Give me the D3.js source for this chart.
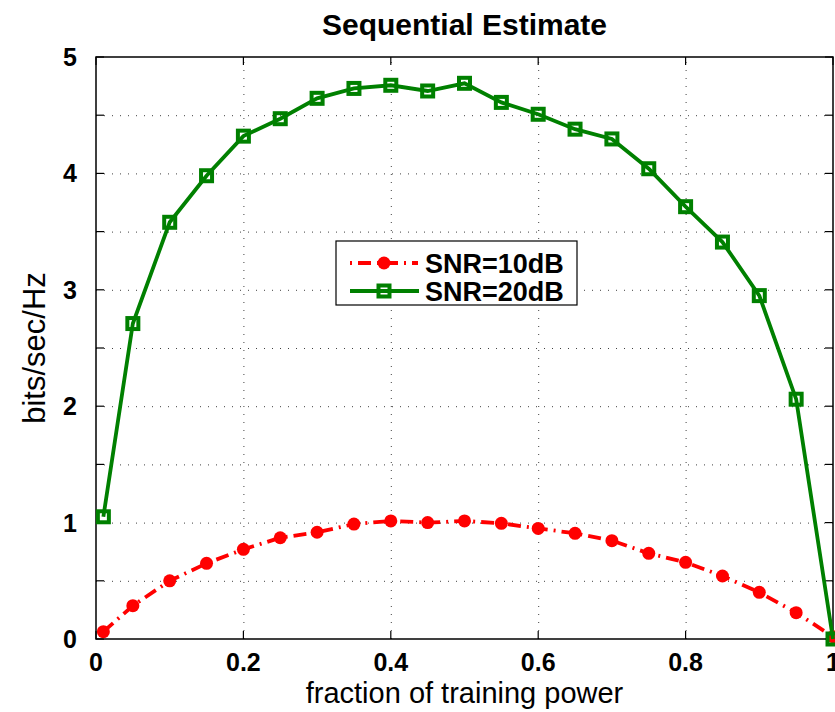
<!DOCTYPE html>
<html>
<head>
<meta charset="utf-8">
<script src="https://cdn.jsdelivr.net/npm/d3@7"></script>
<style>
  body { margin: 0; background: #fff; }
  svg { display: block; font-family: "Liberation Sans", Arial, Helvetica, sans-serif; }
  .grid line { stroke: #000; stroke-width: 1; stroke-dasharray: 1,7; opacity: 0.75; }
  .grid path { display: none; }
  .tick-label { font-weight: bold; font-size: 25px; fill: #000; }
</style>
</head>
<body>
<div id="chart"></div>
<script>
// fraction of training power
var fractions = [0.01, 0.05, 0.1, 0.15, 0.2, 0.25, 0.3, 0.35, 0.4, 0.45, 0.5,
                 0.55, 0.6, 0.65, 0.7, 0.75, 0.8, 0.85, 0.9, 0.95, 1.0];
// bits/sec/Hz
var snr10 = [0.063, 0.286, 0.50, 0.65, 0.77, 0.87, 0.917, 0.987, 1.014, 1.0, 1.014,
             0.994, 0.95, 0.908, 0.845, 0.736, 0.659, 0.541, 0.401, 0.226, 0.02];
var snr20 = [1.05, 2.71, 3.58, 3.98, 4.32, 4.47, 4.645, 4.73, 4.757, 4.708, 4.774,
             4.61, 4.508, 4.38, 4.296, 4.04, 3.714, 3.41, 2.95, 2.06, 0.0];
var seriesNames = ["SNR=10dB", "SNR=20dB"];
var xTicks = [0, 0.2, 0.4, 0.6, 0.8, 1];
var yTicks = [0, 0.5, 1, 1.5, 2, 2.5, 3, 3.5, 4, 4.5, 5];
var yLabels = [0, 1, 2, 3, 4, 5];

var width = 835, height = 712;
var margins = { top: 57, right: 2, bottom: 73, left: 96 };
var chartWidth = width - margins.left - margins.right;
var chartHeight = height - margins.top - margins.bottom;

var svg = d3.select("#chart").append("svg")
  .attr("width", width)
  .attr("height", height);

var xScale = d3.scaleLinear().domain([0, 1]).range([0, chartWidth]);
var yScale = d3.scaleLinear().domain([0, 5]).range([chartHeight, 0]);

var chart = svg.append("g")
  .attr("transform", `translate(${margins.left},${margins.top})`);

// grid
chart.append("g")
  .attr("class", "grid")
  .attr("transform", `translate(0,${chartHeight})`)
  .call(d3.axisBottom(xScale).tickValues(xTicks.slice(1, -1)).tickSize(-chartHeight).tickFormat(""));
chart.append("g")
  .attr("class", "grid")
  .call(d3.axisLeft(yScale).tickValues(yTicks.slice(1, -1)).tickSize(-chartWidth).tickFormat(""));

// box
chart.append("rect")
  .attr("width", chartWidth)
  .attr("height", chartHeight)
  .attr("fill", "none")
  .attr("stroke", "#000")
  .attr("stroke-width", 1.5);

// inward ticks on all four sides
var tickLen = 8;
var ticks = chart.append("g").attr("stroke", "#000").attr("stroke-width", 1.2);
xTicks.forEach(function(t) {
  ticks.append("line").attr("x1", xScale(t)).attr("x2", xScale(t))
    .attr("y1", chartHeight).attr("y2", chartHeight - tickLen);
  ticks.append("line").attr("x1", xScale(t)).attr("x2", xScale(t))
    .attr("y1", 0).attr("y2", tickLen);
});
yTicks.forEach(function(t) {
  ticks.append("line").attr("x1", 0).attr("x2", tickLen)
    .attr("y1", yScale(t)).attr("y2", yScale(t));
  ticks.append("line").attr("x1", chartWidth).attr("x2", chartWidth - tickLen)
    .attr("y1", yScale(t)).attr("y2", yScale(t));
});

// tick labels
chart.append("g").selectAll("text")
  .data(xTicks).enter().append("text")
  .attr("class", "tick-label")
  .attr("x", d => xScale(d))
  .attr("y", chartHeight + 32)
  .attr("text-anchor", "middle")
  .text(d => d === 0 || d === 1 ? d : d.toFixed(1));

chart.append("g").selectAll("text")
  .data(yLabels).enter().append("text")
  .attr("class", "tick-label")
  .attr("x", -19)
  .attr("y", d => yScale(d) + 9)
  .attr("text-anchor", "end")
  .text(d => d);

// lines
var line = d3.line()
  .x((d, i) => xScale(fractions[i]))
  .y(d => yScale(d));

var redColor = "#ff0000", greenColor = "#008000";
var dashDot = "13,6,2,6";

chart.append("path")
  .attr("d", line(snr10))
  .attr("fill", "none")
  .attr("stroke", redColor)
  .attr("stroke-width", 3.8)
  .attr("stroke-dasharray", dashDot);

chart.append("g").selectAll("circle")
  .data(snr10).enter().append("circle")
  .attr("cx", (d, i) => xScale(fractions[i]))
  .attr("cy", d => yScale(d))
  .attr("r", 6.5)
  .attr("fill", redColor);

chart.append("path")
  .attr("d", line(snr20))
  .attr("fill", "none")
  .attr("stroke", greenColor)
  .attr("stroke-width", 3.8);

var sq = 11;
chart.append("g").selectAll("rect")
  .data(snr20).enter().append("rect")
  .attr("x", (d, i) => xScale(fractions[i]) - sq / 2)
  .attr("y", d => yScale(d) - sq / 2)
  .attr("width", sq)
  .attr("height", sq)
  .attr("fill", "none")
  .attr("stroke", greenColor)
  .attr("stroke-width", 4);

// legend
var legend = svg.append("g").attr("transform", "translate(336,241)");
legend.append("rect")
  .attr("width", 241).attr("height", 64)
  .attr("fill", "#fff").attr("stroke", "#000").attr("stroke-width", 1.2);

legend.append("line")
  .attr("x1", 14).attr("x2", 82).attr("y1", 22).attr("y2", 22)
  .attr("stroke", redColor).attr("stroke-width", 3.8)
  .attr("stroke-dasharray", "2,6,13,6");
legend.append("circle")
  .attr("cx", 48).attr("cy", 22).attr("r", 6.5).attr("fill", redColor);
legend.append("line")
  .attr("x1", 14).attr("x2", 83).attr("y1", 50).attr("y2", 50)
  .attr("stroke", greenColor).attr("stroke-width", 3.8);
legend.append("rect")
  .attr("x", 48 - sq / 2).attr("y", 50 - sq / 2)
  .attr("width", sq).attr("height", sq)
  .attr("fill", "none").attr("stroke", greenColor).attr("stroke-width", 4);

legend.selectAll("text.name")
  .data(seriesNames).enter().append("text")
  .attr("class", "name")
  .attr("x", 89)
  .attr("y", (d, i) => 32 + i * 28)
  .attr("font-size", 27)
  .attr("font-weight", "bold")
  .text(d => d);

// title and axis labels
svg.append("text")
  .attr("x", margins.left + chartWidth / 2)
  .attr("y", 35)
  .attr("text-anchor", "middle")
  .attr("font-size", 30)
  .attr("font-weight", "bold")
  .text("Sequential Estimate");

svg.append("text")
  .attr("x", margins.left + chartWidth / 2)
  .attr("y", 703)
  .attr("text-anchor", "middle")
  .attr("font-size", 29)
  .text("fraction of training power");

svg.append("text")
  .attr("transform", `translate(45,${margins.top + chartHeight / 2}) rotate(-90)`)
  .attr("text-anchor", "middle")
  .attr("font-size", 31)
  .text("bits/sec/Hz");
</script>
</body>
</html>
